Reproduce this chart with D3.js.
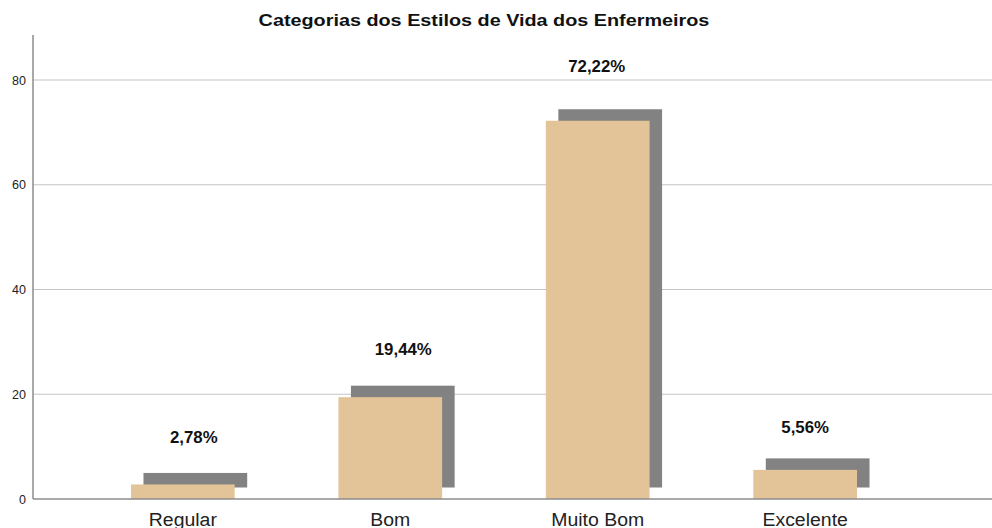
<!DOCTYPE html>
<html>
<head>
<meta charset="utf-8">
<script src="https://cdn.jsdelivr.net/npm/d3@7"></script>
<style>
  html, body { margin: 0; padding: 0; background: #ffffff; }
  svg { display: block; font-family: "Liberation Sans", Arial, sans-serif; }
</style>
</head>
<body>
<svg id="chart" width="992" height="528"></svg>
<script>
// Lifestyle categories and the percentage of nurses in each
const categories = ["Regular", "Bom", "Muito Bom", "Excelente"];
const percentages = [2.78, 19.44, 72.22, 5.56];
const valueLabels = ["2,78%", "19,44%", "72,22%", "5,56%"];
const yTicks = [0, 20, 40, 60, 80];

// Label placement relative to each bar top (layout only)
const labelShiftX = [11, 13, -1, 0];
const labelShiftY = [-41.5, -42, -49, -36.5];

const svg = d3.select("#chart");
const left = 33, right = 992, baseY = 499;

const x = d3.scaleBand()
  .domain(categories)
  .range([left, 955])
  .paddingInner(0.5)
  .paddingOuter(0.4723);

const y = d3.scaleLinear().domain([0, 80]).range([baseY, 80]);

// Stretch a text node horizontally by a factor, keeping its anchor
function widen(sel, factor) {
  sel.each(function () {
    const w = this.getComputedTextLength();
    d3.select(this).attr("textLength", w * factor).attr("lengthAdjust", "spacingAndGlyphs");
  });
}

// Horizontal gridlines
svg.append("g")
  .selectAll("line")
  .data(yTicks.filter(d => d > 0))
  .join("line")
  .attr("x1", left).attr("x2", right)
  .attr("y1", d => y(d)).attr("y2", d => y(d))
  .attr("stroke", "#c4c4c4").attr("stroke-width", 1.2);

// Y axis
const yAxis = svg.append("g")
  .attr("transform", `translate(${left},0)`)
  .call(d3.axisLeft(y).tickValues(yTicks).tickSize(0).tickPadding(7));
yAxis.select(".domain").remove();
yAxis.selectAll("text")
  .attr("font-size", 12.5)
  .attr("font-family", "Liberation Sans, Arial, sans-serif")
  .attr("fill", "#222");
svg.append("line")
  .attr("x1", left).attr("x2", left)
  .attr("y1", 35).attr("y2", baseY)
  .attr("stroke", "#8c8c8c").attr("stroke-width", 1.5);

// Shadow behind each bar
const shadowDx = 12.5, shadowDy = -11.5;
svg.append("g")
  .selectAll("rect")
  .data(percentages)
  .join("rect")
  .attr("x", (d, i) => x(categories[i]) + shadowDx)
  .attr("y", d => y(d) + shadowDy)
  .attr("width", x.bandwidth())
  .attr("height", d => baseY - y(d))
  .attr("fill", "#828282");

// Front bars
svg.append("g")
  .selectAll("rect")
  .data(percentages)
  .join("rect")
  .attr("x", (d, i) => x(categories[i]))
  .attr("y", d => y(d))
  .attr("width", x.bandwidth())
  .attr("height", d => baseY - y(d))
  .attr("fill", "#e3c498");

// Baseline
svg.append("line")
  .attr("x1", left).attr("x2", right)
  .attr("y1", baseY).attr("y2", baseY)
  .attr("stroke", "#8c8c8c").attr("stroke-width", 1.5);

// Category labels
svg.append("g")
  .selectAll("text")
  .data(categories)
  .join("text")
  .attr("x", d => x(d) + x.bandwidth() / 2)
  .attr("y", 526)
  .attr("text-anchor", "middle")
  .attr("font-size", 18)
  .attr("fill", "#222")
  .text(d => d)
  .call(widen, 1.08);

// Value labels
svg.append("g")
  .selectAll("text")
  .data(percentages)
  .join("text")
  .attr("x", (d, i) => x(categories[i]) + x.bandwidth() / 2 + labelShiftX[i])
  .attr("y", (d, i) => y(d) + labelShiftY[i])
  .attr("text-anchor", "middle")
  .attr("font-size", 16)
  .attr("font-weight", "bold")
  .attr("fill", "#111")
  .text((d, i) => valueLabels[i])
  .call(widen, 1.05);

// Title
svg.append("text")
  .attr("x", 484)
  .attr("y", 26)
  .attr("text-anchor", "middle")
  .attr("font-size", 16.5)
  .attr("font-weight", "bold")
  .attr("fill", "#111")
  .text("Categorias dos Estilos de Vida dos Enfermeiros")
  .call(widen, 1.2);
</script>
</body>
</html>
